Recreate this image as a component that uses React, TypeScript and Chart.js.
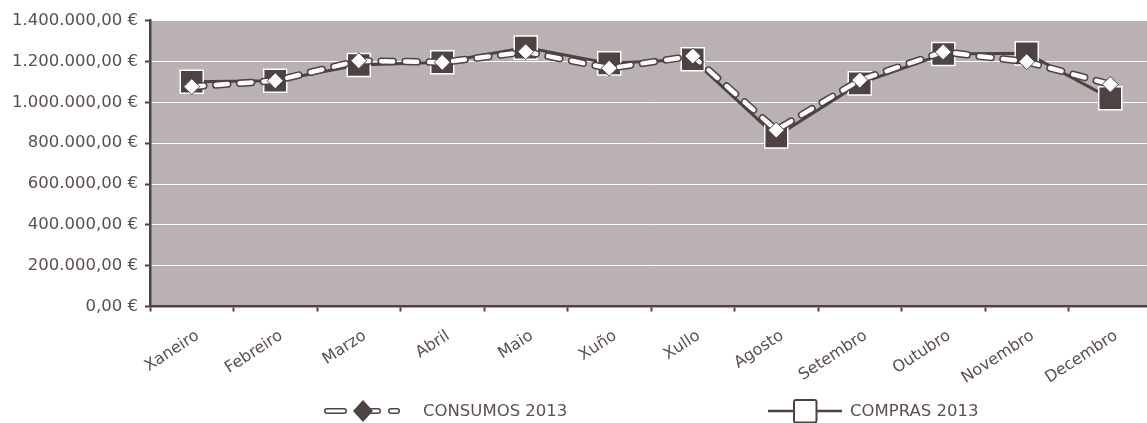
import React, { useEffect, useRef } from 'react';
import { Chart, registerables } from 'chart.js';

Chart.register(...registerables);

const categories = ['Xaneiro', 'Febreiro', 'Marzo', 'Abril', 'Maio', 'Xuño', 'Xullo', 'Agosto', 'Setembro', 'Outubro', 'Novembro', 'Decembro'];
const consumos2013 = [1077000, 1106000, 1204000, 1196000, 1248000, 1167000, 1227000, 864000, 1109000, 1247000, 1199000, 1088000];
const compras2013 = [1101000, 1106000, 1183000, 1196000, 1268000, 1191000, 1211000, 833000, 1093000, 1237000, 1240000, 1020000];
const seriesLabels = ['CONSUMOS 2013', 'COMPRAS 2013'];
const yTicks = [0, 200000, 400000, 600000, 800000, 1000000, 1200000, 1400000];

const DARK = '#4e4242';
const TEXT = '#5b4f4f';
const PLOT_BG = '#bab2b2';
const FONT = '"DejaVu Sans", sans-serif';

function fmtEuro(v: number): string {
  const [i, d] = Number(v).toFixed(2).split('.');
  return i.replace(/\B(?=(\d{3})+(?!\d))/g, '.') + ',' + d + ' €';
}

const plotBgPlugin = {
  id: 'plotBg',
  beforeDraw(chart: any) {
    const { ctx, chartArea } = chart;
    ctx.save();
    ctx.fillStyle = PLOT_BG;
    ctx.fillRect(chartArea.left, chartArea.top, chartArea.right - chartArea.left, chartArea.bottom - chartArea.top);
    ctx.restore();
  },
};

function pill(ctx: CanvasRenderingContext2D, x1: number, x2: number, y: number) {
  ctx.lineCap = 'round';
  ctx.strokeStyle = DARK;
  ctx.lineWidth = 6;
  ctx.beginPath();
  ctx.moveTo(x1 + 3, y);
  ctx.lineTo(x2 - 3, y);
  ctx.stroke();
  ctx.strokeStyle = '#ffffff';
  ctx.lineWidth = 3;
  ctx.beginPath();
  ctx.moveTo(x1 + 3, y);
  ctx.lineTo(x2 - 3, y);
  ctx.stroke();
}

const legendPlugin = {
  id: 'customLegend',
  afterDraw(chart: any) {
    const ctx: CanvasRenderingContext2D = chart.ctx;
    const y = 411;
    ctx.save();
    // CONSUMOS symbol
    pill(ctx, 324, 347, y);
    pill(ctx, 368, 381, y);
    pill(ctx, 388, 400, y);
    ctx.fillStyle = DARK;
    ctx.beginPath();
    ctx.moveTo(363, y - 11);
    ctx.lineTo(373, y);
    ctx.lineTo(363, y + 11);
    ctx.lineTo(353, y);
    ctx.closePath();
    ctx.fill();
    // COMPRAS symbol
    ctx.strokeStyle = DARK;
    ctx.lineWidth = 2.5;
    ctx.lineCap = 'butt';
    ctx.beginPath();
    ctx.moveTo(768, y);
    ctx.lineTo(842, y);
    ctx.stroke();
    ctx.fillStyle = '#ffffff';
    ctx.lineWidth = 2;
    ctx.beginPath();
    (ctx as any).roundRect(794, 400, 22.5, 22.5, 2);
    ctx.fill();
    ctx.stroke();
    // texts
    ctx.fillStyle = TEXT;
    ctx.font = '16.5px ' + FONT;
    ctx.textBaseline = 'middle';
    ctx.textAlign = 'left';
    ctx.fillText(seriesLabels[0], 423, y + 1);
    ctx.fillText(seriesLabels[1], 850, y + 1);
    ctx.restore();
  },
};

export default function App() {
  const canvasRef = useRef<HTMLCanvasElement | null>(null);

  useEffect(() => {
    document.documentElement.style.overflow = 'hidden';
    document.body.style.margin = '0';
    const canvas = canvasRef.current;
    if (!canvas) return;
    const chart = new Chart(canvas, {
      type: 'line',
      data: {
        labels: categories,
        datasets: [
          {
            label: seriesLabels[0],
            data: consumos2013,
            borderColor: '#ffffff',
            borderWidth: 4.5,
            borderDash: [12, 12],
            borderCapStyle: 'round',
            pointStyle: 'rectRot',
            pointRadius: 8,
            pointBackgroundColor: '#ffffff',
            pointBorderColor: DARK,
            pointBorderWidth: 1,
            tension: 0,
          },
          {
            label: 'consumos-outline',
            data: consumos2013,
            borderColor: DARK,
            borderWidth: 7.5,
            borderDash: [12, 12],
            borderCapStyle: 'round',
            pointRadius: 0,
            tension: 0,
          },
          {
            label: seriesLabels[1],
            data: compras2013,
            borderColor: DARK,
            borderWidth: 3,
            pointStyle: 'rect',
            pointRadius: 16.3,
            pointBackgroundColor: DARK,
            pointBorderColor: '#ffffff',
            pointBorderWidth: 1.5,
            tension: 0,
          },
        ],
      },
      options: {
        animation: false,
        responsive: false,
        maintainAspectRatio: false,
        devicePixelRatio: 1,
        layout: { autoPadding: false, padding: { top: 20.7, right: 0, bottom: 40, left: 0 } },
        plugins: {
          legend: { display: false },
          tooltip: { enabled: false },
        },
        scales: {
          x: {
            offset: true,
            afterFit: (s: any) => { s.height = 76.5; s.paddingRight = 0; s.paddingLeft = 0; },
            grid: { offset: true, drawOnChartArea: false, tickColor: DARK, tickLength: 5, tickWidth: 2 },
            border: { color: DARK, width: 2.5 },
            ticks: {
              color: TEXT,
              font: { family: FONT, size: 16 },
              minRotation: 33,
              maxRotation: 33,
              autoSkip: false,
              padding: 15,
              labelOffset: 6,
            },
          },
          y: {
            min: 0,
            max: 1400000,
            afterFit: (s: any) => { s.width = 150; s.paddingTop = 0; s.paddingBottom = 0; },
            afterBuildTicks: (s: any) => { s.ticks = yTicks.map((v) => ({ value: v })); },
            grid: { color: '#ffffff', lineWidth: 1, tickColor: DARK, tickLength: 5, tickWidth: 2 },
            border: { color: DARK, width: 2.5 },
            ticks: {
              color: TEXT,
              font: { family: FONT, size: 16.5 },
              padding: 7,
              callback: (v: any) => fmtEuro(Number(v)),
            },
          },
        },
      },
      plugins: [plotBgPlugin, legendPlugin],
    });
    return () => chart.destroy();
  }, []);

  return (
    <div style={{ position: 'fixed', left: 0, top: 0, width: 1152, height: 423, background: '#ffffff', overflow: 'hidden' }}>
      <canvas ref={canvasRef} width={1152} height={423} style={{ display: 'block', width: 1152, height: 423 }} />
    </div>
  );
}
